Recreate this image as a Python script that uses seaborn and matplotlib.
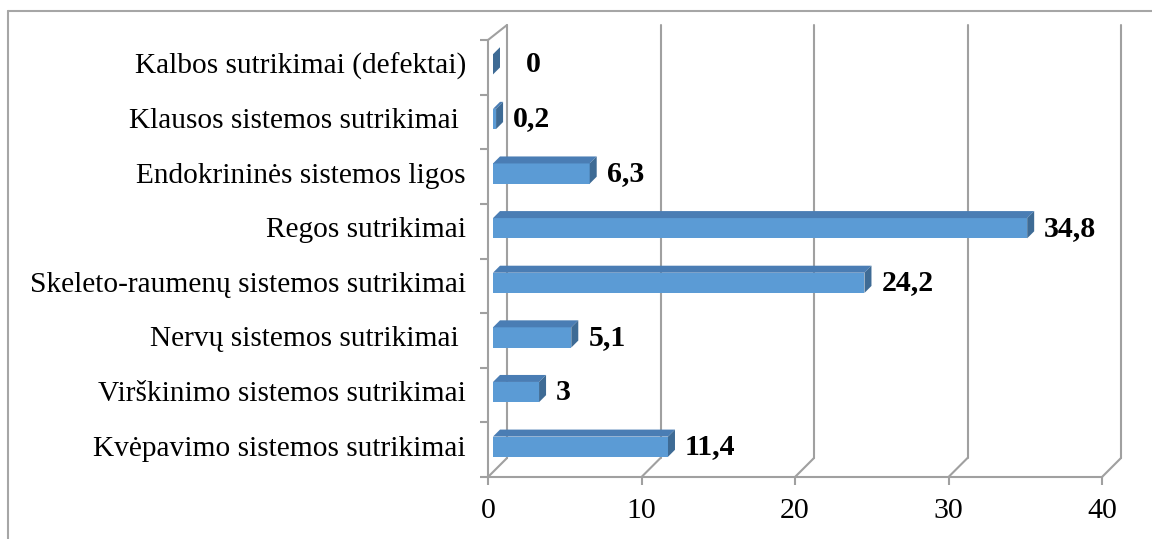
import numpy as np
import matplotlib
matplotlib.use("Agg")
import matplotlib.pyplot as plt
import seaborn as sns
from matplotlib.lines import Line2D
from matplotlib.patches import Polygon
from matplotlib.transforms import IdentityTransform, ScaledTranslation, offset_copy

# duomenys
kategorijos = [
    "Kalbos sutrikimai (defektai)",
    "Klausos sistemos sutrikimai ",
    "Endokrininės sistemos ligos",
    "Regos sutrikimai",
    "Skeleto-raumenų sistemos sutrikimai",
    "Nervų sistemos sutrikimai ",
    "Virškinimo sistemos sutrikimai",
    "Kvėpavimo sistemos sutrikimai",
]
reiksmes = [0, 0.2, 6.3, 34.8, 24.2, 5.1, 3, 11.4]
etiketes = ["0", "0,2", "6,3", "34,8", "24,2", "5,1", "3", "11,4"]
x_ticks = [0, 10, 20, 30, 40]

sns.set_style("white")
plt.rcParams["font.family"] = ["Liberation Serif", "DejaVu Serif"]
plt.rcParams["text.color"] = "black"
plt.rcParams["xtick.labelcolor"] = "black"
plt.rcParams["ytick.labelcolor"] = "black"

W, H = 1152, 539
fig = plt.figure(figsize=(W / 100, H / 100), dpi=100)
ax = fig.add_axes([488 / W, (H - 477) / H, 614 / W, 437 / H])

grey = "#A0A0A0"
front_c = "#5B9BD5"
top_c = "#4A7DB4"
side_c = "#3E6B95"

sns.barplot(x=reiksmes, y=kategorijos, orient="h", color=front_c,
            width=0.37, saturation=1, ax=ax, linewidth=0)

n = len(kategorijos)
ax.set_xlim(0, 40)
ax.set_ylim(n - 0.5, -0.5)
ax.set_xlabel("")
ax.set_ylabel("")

# bars sit a bit behind the front plane
bar_tr = offset_copy(ax.transData, fig=fig, x=5, y=3, units="dots")
d = 7  # bar depth in px
for p in ax.patches:
    p.set_transform(bar_tr)
    x0, y0 = p.get_x(), p.get_y()
    x1, y1 = x0 + p.get_width(), y0 + p.get_height()
    (ax0, ay_top), (ax1, ay_bot) = bar_tr.transform([(x0, y0), (x1, y1)])
    top = Polygon([(ax0, ay_top), (ax1, ay_top), (ax1 + d, ay_top + d), (ax0 + d, ay_top + d)],
                  closed=True, fc=top_c, ec="none", transform=IdentityTransform(), clip_on=False)
    side = Polygon([(ax1, ay_bot), (ax1, ay_top), (ax1 + d, ay_top + d), (ax1 + d, ay_bot + d)],
                   closed=True, fc=side_c, ec="none", transform=IdentityTransform(), clip_on=False)
    ax.add_patch(top)
    ax.add_patch(side)

# value labels
for i, (v, t) in enumerate(zip(reiksmes, etiketes)):
    dx = 22 if v > 0 else 38
    ax.text(v, i, t, transform=offset_copy(ax.transData, fig=fig, x=dx, y=3, units="dots"),
            ha="left", va="center", fontsize=21.5, fontweight="bold", color="black")

# back wall, floor and left wall of the 3D box
depth = 19
top_px = H - 25
for t in x_ticks:
    fx, fy = ax.transData.transform((t, n - 0.5))
    ax.add_line(Line2D([fx, fx + depth], [fy, fy + depth], color=grey, lw=1.5,
                       transform=IdentityTransform(), clip_on=False, zorder=0))
    ax.add_line(Line2D([fx + depth, fx + depth], [fy + depth, top_px], color=grey, lw=1.5,
                       transform=IdentityTransform(), clip_on=False, zorder=0))
fx, fy = ax.transData.transform((0, -0.5))
ax.add_line(Line2D([fx, fx + depth], [fy, top_px], color=grey, lw=1.5,
                   transform=IdentityTransform(), clip_on=False, zorder=0))

# spines and ticks
for s in ["top", "right"]:
    ax.spines[s].set_visible(False)
for s in ["left", "bottom"]:
    ax.spines[s].set_color(grey)
    ax.spines[s].set_linewidth(1.5)

ax.set_xticks(x_ticks)
ax.set_xticklabels([str(t) for t in x_ticks])
ax.tick_params(axis="x", direction="out", length=6, width=1.5, color=grey,
               labelsize=21.5, pad=9, bottom=True, labelcolor="black")
ax.set_yticks(range(n))
ax.set_yticklabels(kategorijos)
ax.set_yticks(np.arange(-0.5, n, 1), minor=True)
ax.tick_params(axis="y", which="major", length=0, labelsize=21.2, pad=16, labelcolor="black")
ax.tick_params(axis="y", which="minor", direction="out", length=6, width=1.5, color=grey, left=True)
for lbl in ax.get_yticklabels():
    lbl.set_transform(lbl.get_transform() + ScaledTranslation(0, 4 / 100, fig.dpi_scale_trans))
ax.grid(False)

# chart border
fig.add_artist(Line2D([8 / W, 1], [(H - 11) / H] * 2, color="#A6A6A6", lw=1.5))
fig.add_artist(Line2D([8 / W] * 2, [0, (H - 11) / H], color="#A6A6A6", lw=1.5))

fig.savefig("out.png", dpi=100)
